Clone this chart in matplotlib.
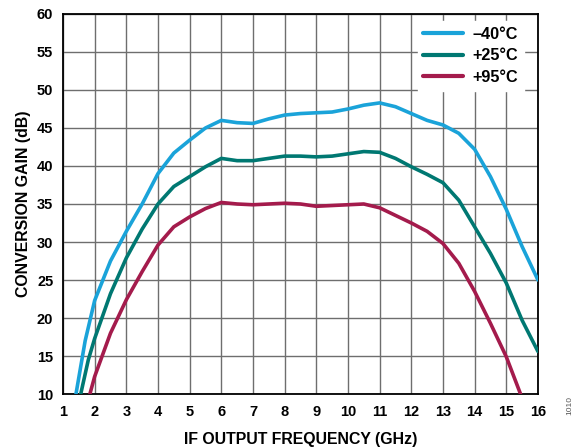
import matplotlib
matplotlib.use("Agg")
import matplotlib.pyplot as plt

plt.rcParams['font.family'] = ['Liberation Sans', 'DejaVu Sans']

freq_m40 = [1.41, 1.7, 2.0, 2.5, 3.0, 3.5, 4.0, 4.5, 5.0, 5.5, 6.0, 6.5, 7.0, 7.5, 8.0, 8.5, 9.0, 9.5, 10.0, 10.5, 11.0, 11.5, 12.0, 12.5, 13.0, 13.5, 14.0, 14.5, 15.0, 15.5, 16.0]
gain_m40 = [10.0, 17.0, 22.3, 27.5, 31.4, 35.0, 39.0, 41.7, 43.4, 45.0, 46.0, 45.7, 45.6, 46.2, 46.7, 46.9, 47.0, 47.1, 47.5, 48.0, 48.3, 47.8, 46.9, 46.0, 45.4, 44.3, 42.2, 38.6, 34.3, 29.4, 25.0]

freq_p25 = [1.56, 1.8, 2.0, 2.5, 3.0, 3.5, 4.0, 4.5, 5.0, 5.5, 6.0, 6.5, 7.0, 7.5, 8.0, 8.5, 9.0, 9.5, 10.0, 10.5, 11.0, 11.5, 12.0, 12.5, 13.0, 13.5, 14.0, 14.5, 15.0, 15.5, 16.0]
gain_p25 = [10.0, 14.5, 17.3, 23.2, 27.9, 31.7, 35.0, 37.3, 38.6, 39.9, 41.0, 40.7, 40.7, 41.0, 41.3, 41.3, 41.2, 41.3, 41.6, 41.9, 41.8, 41.0, 39.9, 38.9, 37.8, 35.5, 32.0, 28.5, 24.6, 19.7, 15.6]

freq_p95 = [1.85, 2.0, 2.5, 3.0, 3.5, 4.0, 4.5, 5.0, 5.5, 6.0, 6.5, 7.0, 7.5, 8.0, 8.5, 9.0, 9.5, 10.0, 10.5, 11.0, 11.5, 12.0, 12.5, 13.0, 13.5, 14.0, 14.5, 15.0, 15.45]
gain_p95 = [10.0, 12.3, 18.0, 22.4, 26.1, 29.6, 32.0, 33.3, 34.4, 35.2, 35.0, 34.9, 35.0, 35.1, 35.0, 34.7, 34.8, 34.9, 35.0, 34.5, 33.5, 32.5, 31.4, 29.8, 27.2, 23.5, 19.3, 14.9, 10.0]

labels = ['\u201340\u00b0C', '+25\u00b0C', '+95\u00b0C']
colors = ['#1aa3d9', '#007872', '#a41b4c']

x_ticks = list(range(1, 17))
y_ticks = list(range(10, 61, 5))

fig = plt.figure(figsize=(5.86, 4.48), dpi=100)
ax = fig.add_axes([0.1075, 0.1205, 0.8105, 0.8483])

for f, g, lab, c in zip([freq_m40, freq_p25, freq_p95], [gain_m40, gain_p25, gain_p95], labels, colors):
    ax.plot(f, g, color=c, lw=2.6, label=lab, solid_joinstyle='round', solid_capstyle='round', zorder=3)

ax.set_xlim(1, 16)
ax.set_ylim(10, 60)
ax.set_xticks(x_ticks)
ax.set_yticks(y_ticks)
ax.grid(True, color='#6e6e6e', lw=1.0, zorder=1)
ax.set_axisbelow(True)
ax.tick_params(axis='x', length=0, labelsize=10.5, pad=8)
ax.tick_params(axis='y', length=0, labelsize=10.5, pad=7)
for t in ax.get_xticklabels() + ax.get_yticklabels():
    t.set_fontweight('bold')
for s in ax.spines.values():
    s.set_color('black')
    s.set_linewidth(1.3)

ax.set_xlabel('IF OUTPUT FREQUENCY (GHz)', fontsize=11.4, fontweight='bold', labelpad=9)
ax.set_ylabel('CONVERSION GAIN (dB)', fontsize=11.4, fontweight='bold', labelpad=4)

leg = ax.legend(loc='upper right', bbox_to_anchor=(0.971, 0.982), frameon=True, fancybox=False,
                edgecolor='white', framealpha=1.0, fontsize=11.7, handlelength=2.45,
                handletextpad=0.6, labelspacing=0.42, borderpad=0.35, borderaxespad=0.0)
for t in leg.get_texts():
    t.set_fontweight('bold')
for h in leg.get_lines():
    h.set_linewidth(3.0)
leg.set_zorder(5)

fig.text(0.972, 0.095, '1010', rotation=90, fontsize=6, color='#555555', ha='center', va='center')

fig.savefig('out.png', dpi=100)
